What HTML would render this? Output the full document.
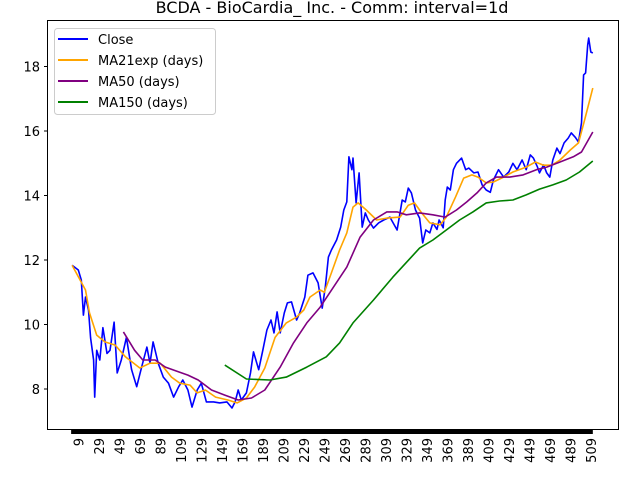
<!DOCTYPE html>
<html><head><meta charset="utf-8"><style>
html,body{margin:0;padding:0;background:#fff}
svg{display:block;font-family:"DejaVu Sans","Liberation Sans",sans-serif}
</style></head><body>
<svg id="chart" width="640" height="480" viewBox="0 0 640 480" xmlns="http://www.w3.org/2000/svg">
<rect width="640" height="480" fill="#fff"/>
<text x="332" y="13" font-size="16" text-anchor="middle">BCDA - BioCardia_ Inc. - Comm: interval=1d</text>
<g id="plot"></g>
<rect x="47.5" y="20.5" width="571" height="409" fill="none" stroke="#000" stroke-width="1"/>
<g id="axes"></g>
<g>
<rect x="54.5" y="28.5" width="161" height="86" rx="3" fill="#fff" fill-opacity="0.8" stroke="#ccc"/>
<line x1="58" y1="39" x2="88" y2="39" stroke="blue" stroke-width="2"/>
<text x="98" y="44" font-size="13">Close</text>
<line x1="58" y1="60" x2="88" y2="60" stroke="orange" stroke-width="2"/>
<text x="98" y="65" font-size="13">MA21exp (days)</text>
<line x1="58" y1="81" x2="88" y2="81" stroke="purple" stroke-width="2"/>
<text x="98" y="86" font-size="13">MA50 (days)</text>
<line x1="58" y1="102" x2="88" y2="102" stroke="green" stroke-width="2"/>
<text x="98" y="107" font-size="13">MA150 (days)</text>
</g>
</svg>
<script>
const closeIdx=[2,8,11,13,15,18,20,23,24,26,29,32,36,39,43,46,50,55,60,65,70,75,78,81,86,91,96,101,106,110,115,119,124,128,133,140,146,153,158,161,164,167,172,176,179,184,188,192,196,199,202,205,209,212,216,221,224,229,232,237,242,246,249,252,255,260,264,267,270,272,275,276,279,282,285,288,291,296,301,306,312,319,324,327,330,333,337,341,344,347,351,354,358,360,364,366,368,371,374,377,382,386,389,394,398,402,406,410,413,418,423,428,432,436,441,445,449,452,456,458,462,465,468,471,475,478,482,486,489,493,496,499,501,503,505,506,508,510];
const closeVal=[11.84,11.69,11.38,10.29,10.85,10.45,9.58,8.9,7.75,9.2,8.9,9.9,9.1,9.2,10.07,8.5,8.9,9.6,8.6,8.07,8.7,9.3,8.8,9.46,8.8,8.37,8.18,7.75,8.07,8.28,7.97,7.44,7.97,8.18,7.6,7.6,7.57,7.6,7.41,7.6,7.97,7.66,7.88,8.5,9.15,8.6,9.2,9.83,10.14,9.74,10.39,9.74,10.36,10.67,10.7,10.14,10.36,10.85,11.53,11.6,11.29,10.51,11.16,12.09,12.31,12.62,13.02,13.55,13.8,15.2,14.8,15.16,13.77,14.7,13.02,13.46,13.24,12.99,13.15,13.24,13.33,12.93,13.86,13.8,14.23,14.08,13.55,13.3,12.53,12.93,12.84,13.15,12.95,13.24,13.0,13.86,14.26,14.17,14.8,15.0,15.16,14.8,14.85,14.7,14.73,14.33,14.17,14.1,14.48,14.8,14.57,14.73,15.0,14.8,15.1,14.8,15.26,15.16,14.88,14.7,14.95,14.7,14.57,15.1,15.47,15.3,15.63,15.78,15.94,15.8,15.66,16.25,17.74,17.8,18.67,18.88,18.45,18.42];
const ma21Idx=[2,15,19,26,34,44,54,68,78,88,99,107,117,124,132,142,154,163,172,180,190,200,211,221,228,234,244,248,255,263,270,276,281,289,299,309,322,330,336,343,351,361,367,376,384,392,398,406,413,423,432,445,454,462,470,478,488,496,502,510];
const ma21Val=[11.84,11.07,10.36,9.67,9.46,9.36,9.0,8.65,8.8,8.8,8.37,8.18,8.12,7.88,7.97,7.75,7.66,7.57,7.72,8.06,8.65,9.6,10.05,10.23,10.45,10.85,11.07,11.0,11.6,12.31,12.84,13.64,13.77,13.55,13.24,13.3,13.33,13.7,13.77,13.46,13.15,13.09,13.33,13.95,14.54,14.64,14.57,14.39,14.42,14.57,14.73,14.88,15.04,14.94,14.94,15.1,15.41,15.63,16.34,17.33];
const ma50Idx=[52,63,71,83,93,106,115,125,138,151,164,177,190,205,218,231,244,257,270,283,296,309,319,328,341,354,366,377,387,397,406,416,429,442,455,465,478,491,499,510];
const ma50Val=[9.77,9.2,8.9,8.9,8.68,8.53,8.43,8.28,7.97,7.81,7.66,7.72,7.97,8.68,9.43,10.05,10.54,11.16,11.78,12.71,13.24,13.49,13.49,13.4,13.46,13.4,13.33,13.55,13.8,14.08,14.39,14.57,14.57,14.64,14.8,14.88,15.04,15.2,15.35,15.97];
const ma150Idx=[151,172,195,211,231,250,263,276,296,315,335,341,354,367,380,393,406,419,432,445,458,471,484,497,510];
const ma150Val=[8.74,8.31,8.28,8.37,8.68,9.0,9.43,10.05,10.76,11.47,12.16,12.37,12.62,12.93,13.24,13.49,13.77,13.83,13.86,14.02,14.2,14.33,14.48,14.73,15.07];
const yTicks=[8,10,12,14,16,18];
const xTicks=[9,29,49,69,89,109,129,149,169,189,209,229,249,269,289,309,329,349,369,389,409,429,449,469,489,509];

const NS='http://www.w3.org/2000/svg';
const xS=i=>79.3+(i-9)*1.025;
const yS=v=>389-(v-8)*32.25;
const plot=document.getElementById('plot');
const axes=document.getElementById('axes');
function line(idx,val,color,name){
  const p=document.createElementNS(NS,'polyline');
  p.setAttribute('points',idx.map((d,k)=>xS(d).toFixed(1)+','+yS(val[k]).toFixed(1)).join(' '));
  p.setAttribute('fill','none');p.setAttribute('stroke',color);p.setAttribute('stroke-width','1.6');
  p.setAttribute('stroke-linejoin','round');
  
  
  plot.appendChild(p);
}
line(closeIdx,closeVal,'blue','close-line');
line(ma21Idx,ma21Val,'orange','ma21exp-line');
line(ma50Idx,ma50Val,'purple','ma50-line');
line(ma150Idx,ma150Val,'green','ma150-line');

yTicks.forEach(v=>{
  const t=document.createElementNS(NS,'line');
  t.setAttribute('x1',44);t.setAttribute('x2',47.5);t.setAttribute('y1',yS(v));t.setAttribute('y2',yS(v));t.setAttribute('stroke','#000');
  
  
  axes.appendChild(t);
  const l=document.createElementNS(NS,'text');
  l.setAttribute('x',40);l.setAttribute('y',yS(v)+5);l.setAttribute('text-anchor','end');l.setAttribute('font-size','13');
  l.textContent=v;
  
  
  axes.appendChild(l);
});
const band=document.createElementNS(NS,'rect');
band.setAttribute('x',xS(closeIdx[0])-1);band.setAttribute('y',429.5);
band.setAttribute('width',xS(closeIdx[closeIdx.length-1])-xS(closeIdx[0])+1);band.setAttribute('height',4.5);band.setAttribute('fill','#000');


axes.appendChild(band);
xTicks.forEach(v=>{
  const l=document.createElementNS(NS,'text');
  const x=xS(v)+4;
  l.setAttribute('x',x);l.setAttribute('y',438);l.setAttribute('text-anchor','end');l.setAttribute('font-size','13');
  l.setAttribute('transform','rotate(-90 '+x+' 438)');
  l.textContent=v;
  
  
  axes.appendChild(l);
});
</script>
</body></html>
